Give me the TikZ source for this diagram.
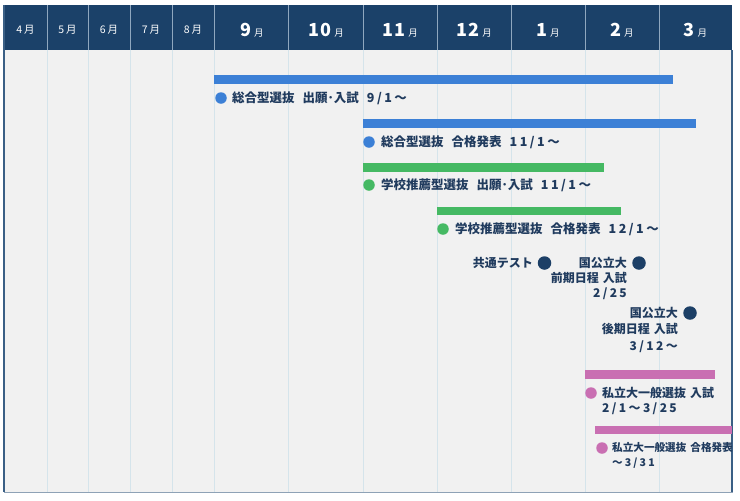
\documentclass[tikz,border=0pt]{standalone}
\usepackage{fontspec}
\setmainfont{Noto Sans CJK JP}
\newfontfamily\numfont{Noto Sans CJK JP}[LetterSpace=20]
\newfontfamily\hdrfont{Noto Sans CJK JP}[LetterSpace=8]
\newcommand{\nm}[1]{{\numfont\bfseries #1}}
\newcommand{\wsp}{\hspace{8pt}}
\newcommand{\nsp}{\hspace{4pt}}
\definecolor{hdr}{HTML}{1B4169}
\definecolor{hdrsep}{HTML}{8FA7BF}
\definecolor{bodybg}{HTML}{F1F1F1}
\definecolor{gridc}{HTML}{D5E4EB}
\definecolor{txt}{HTML}{203B5E}
\definecolor{bluebar}{HTML}{3C80D6}
\definecolor{greenbar}{HTML}{45B963}
\definecolor{pinkbar}{HTML}{C96FB2}
\definecolor{navydot}{HTML}{1C3F66}
\definecolor{sideb}{HTML}{3A5F85}
\definecolor{botb}{HTML}{8EA2B6}
\newcommand{\bigmonthtxt}[1]{{\bfseries\fontsize{18}{18}\selectfont #1}\hspace{3pt}{\fontsize{9.5}{9.5}\selectfont 月}}
\tikzset{
  smallmonth/.style={text=white, inner sep=0pt, anchor=base, font=\hdrfont\fontsize{10.5}{12}\selectfont},
  bigmonth/.style={text=white, inner sep=0pt, anchor=base, font=\hdrfont},
  lbl/.style={text=txt, inner sep=0pt, font=\bfseries\fontsize{12}{15}\selectfont},
  wlbl/.style={lbl, anchor=west, font=\bfseries\fontsize{12.5}{15}\selectfont},
  dotmark/.style={circle, inner sep=0pt, minimum size=11.5pt},
  navymark/.style={circle, inner sep=0pt, minimum size=13.5pt, fill=navydot}
}
\begin{document}
\begin{tikzpicture}[x=1pt,y=-1pt]
\useasboundingbox (0,0) rectangle (740,501);
\fill[white] (0,0) rectangle (740,501);
% body
\fill[bodybg] (4,50) rectangle (732,492);
\foreach \x in {47,88,130,172,214,288,363,437,511,585,659}
  \draw[gridc, line width=1pt] (\x,50) -- (\x,492);
% header
\fill[hdr] (4,5) rectangle (732,50);
\foreach \x in {47,88,130,172,214,288,363,437,511,585,659}
  \draw[hdrsep, line width=0.8pt] (\x,5) -- (\x,50);
% borders
\draw[sideb, line width=1.3pt] (4,5) -- (4,492);
\draw[sideb, line width=1.3pt] (732,50) -- (732,492);
\draw[botb, line width=1.5pt] (4,492.5) -- (732.6,492.5);
% header labels
\node[smallmonth] (m4) at (25.5,33) {4\,月};
\node[smallmonth] (m5) at (67.5,33) {5\,月};
\node[smallmonth] (m6) at (109,33) {6\,月};
\node[smallmonth] (m7) at (151,33) {7\,月};
\node[smallmonth] (m8) at (193,33) {8\,月};
\node[bigmonth] (m9) at (252,36.5) {\bigmonthtxt{9}};
\node[bigmonth] (m10) at (326,36.5) {\bigmonthtxt{10}};
\node[bigmonth] (m11) at (400,36.5) {\bigmonthtxt{11}};
\node[bigmonth] (m12) at (474,36.5) {\bigmonthtxt{12}};
\node[bigmonth] (m1) at (548,36.5) {\bigmonthtxt{1}};
\node[bigmonth] (m2) at (622,36.5) {\bigmonthtxt{2}};
\node[bigmonth] (m3) at (695.5,36.5) {\bigmonthtxt{3}};
% bars
\fill[bluebar] (214,75) rectangle (673,84);
\fill[bluebar] (363,119) rectangle (696,128);
\fill[greenbar] (363,163) rectangle (604,172);
\fill[greenbar] (437,207) rectangle (621,215);
\fill[pinkbar] (585,370) rectangle (715,379);
\fill[pinkbar] (595,426) rectangle (732,434);
% labels
\node[dotmark, fill=bluebar] (d1) at (221,98) {};
\node[wlbl] (t1) at (232,98) {総合型選抜\wsp 出願･入試\wsp\nm{9/1～}};
\node[dotmark, fill=bluebar] (d2) at (369,142) {};
\node[wlbl] (t2) at (381,142) {総合型選抜\wsp 合格発表\wsp\nm{11/1～}};
\node[dotmark, fill=greenbar] (d3) at (369,185) {};
\node[wlbl] (t3) at (381,185) {学校推薦型選抜\wsp 出願･入試\wsp\nm{11/1～}};
\node[dotmark, fill=greenbar] (d4) at (443,229) {};
\node[wlbl] (t4) at (455,229) {学校推薦型選抜\wsp 合格発表\wsp\nm{12/1～}};
\node[navymark] (d5) at (544.5,263) {};
\node[lbl, anchor=east] (t5) at (533,263) {共通テスト};
\node[navymark] (d6) at (639,263) {};
\node[lbl, anchor=north east, align=right] (t6) at (627,257) {国公立大\\前期日程\nsp 入試\\\nm{2/25}};
\node[navymark] (d7) at (690,313) {};
\node[lbl, anchor=north east, align=right, font=\bfseries\fontsize{12}{16.5}\selectfont] (t7) at (678,307) {国公立大\\後期日程\nsp 入試\\\nm{3/12～}};
\node[dotmark, fill=pinkbar] (d8) at (591,393) {};
\node[lbl, anchor=north west, align=left] (t8) at (602,387) {私立大一般選抜\nsp 入試\\\nm{2/1～3/25}};
\node[dotmark, fill=pinkbar] (d9) at (602,448) {};
\node[lbl, anchor=north west, align=left, font=\bfseries\fontsize{10.6}{15}\selectfont] (t9) at (612,442.5) {私立大一般選抜\hspace{4pt}合格発表\\\nm{～3/31}};
\end{tikzpicture}
\end{document}
